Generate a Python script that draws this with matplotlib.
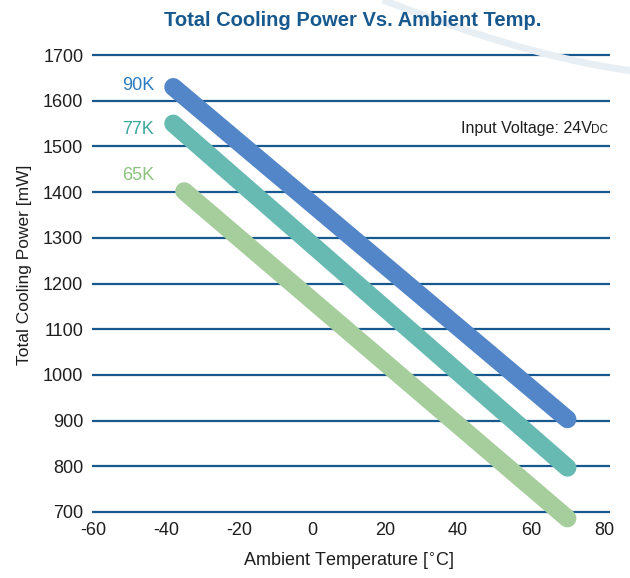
import numpy as np
import matplotlib as mpl
mpl.use('Agg')
import matplotlib.pyplot as plt
from matplotlib.path import Path
from matplotlib.patches import PathPatch

plt.rcParams['font.family'] = ['Liberation Sans', 'DejaVu Sans']

# data
series = ['90K', '77K', '65K']
temp_start = [-38, -38, -35]
temp_end = [70, 70, 70]
power_start = [1630, 1550, 1402]
power_end = [903, 797, 686]
label_y = [1634, 1536, 1437]

xticks = [-60, -40, -20, 0, 20, 40, 60, 80]
yticks = [700, 800, 900, 1000, 1100, 1200, 1300, 1400, 1500, 1600, 1700]

line_colors = ['#5286c8', '#66bab2', '#a6cd9c']
text_colors = ['#2b7cc0', '#3aa89c', '#8cc27f']
grid_color = '#17598f'
ink = '#1e1e1e'

fig = plt.figure(figsize=(6.3, 5.78), dpi=100)

# light decorative arc in the upper right corner
W, H = 630.0, 578.0
pts = [(383, 0), (455, 28), (545, 60), (640, 72)]
verts = [(x / W, 1 - y / H) for x, y in pts]
arc = PathPatch(Path(verts, [Path.MOVETO, Path.CURVE4, Path.CURVE4, Path.CURVE4]),
                transform=fig.transFigure, facecolor='none',
                edgecolor='#e7eef4', lw=5, zorder=0)
fig.patches.append(arc)

# axes: 1700 at y=55 px, 700 at y=512 px, -60 at x=93 px, 80 at x=604 px
ax = fig.add_axes([0.1476, 1 - 521.1 / H, 0.811, (521.1 - 45.9) / H])
ax.set_facecolor('none')
ax.set_xlim(-60, 80)
ax.set_ylim(680, 1720)

for y in yticks:
    ax.plot([-60.3, 81.8], [y, y], color=grid_color, lw=1.6, zorder=1,
            solid_capstyle='butt', clip_on=False)

for i in range(len(series)):
    ax.plot([temp_start[i], temp_end[i]], [power_start[i], power_end[i]],
            color=line_colors[i], lw=13, solid_capstyle='round', zorder=3,
            clip_on=False)
    ax.text(-43.3, label_y[i], series[i], color=text_colors[i], fontsize=13,
            ha='right', va='center')

ax.set_xticks(xticks)
ax.set_xticklabels([str(t) for t in xticks])
ax.set_yticks(yticks)
ax.set_yticklabels([str(t) for t in yticks])
ax.tick_params(length=0, labelsize=13, colors=ink)
ax.tick_params(axis='x', pad=1)
ax.tick_params(axis='y', pad=7)
for s in ax.spines.values():
    s.set_visible(False)

ax.set_xlabel('Ambient Temperature [$^{\\circ}$C]', fontsize=13, color=ink)
ax.xaxis.set_label_coords(0.5, -0.062)
ax.set_ylabel('Total Cooling Power [mW]', fontsize=12.5, color=ink)
ax.yaxis.set_label_coords(-0.12, 0.54)

ax.annotate('DC', xy=(81, 1530), fontsize=8.5, color=ink,
            ha='right', va='baseline', annotation_clip=False)
ax.annotate('Input Voltage: 24V', xy=(81, 1530), xytext=(-11, 0),
            textcoords='offset points', fontsize=11.5, color=ink,
            ha='right', va='baseline', annotation_clip=False)

fig.text(0.56, 0.965, 'Total Cooling Power Vs. Ambient Temp.', fontsize=14.5,
         fontweight='bold', color='#17598f', ha='center', va='center')

fig.savefig('out.png', dpi=100)
